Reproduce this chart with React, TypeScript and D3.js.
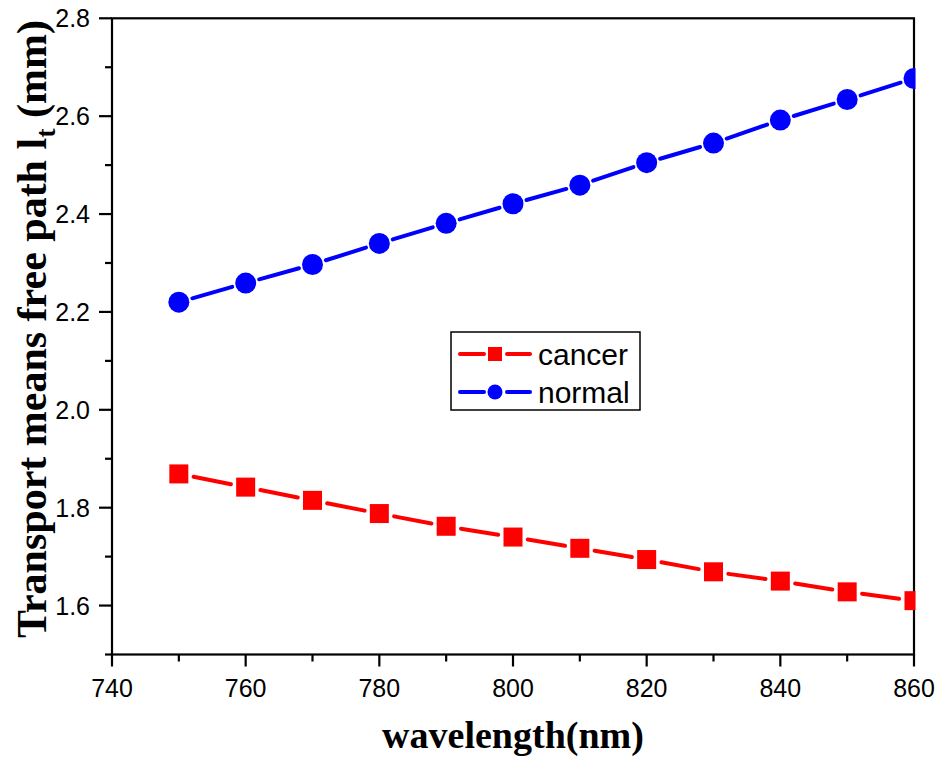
import React from "react";
import * as d3 from "d3";

const wavelengths = [750, 760, 770, 780, 790, 800, 810, 820, 830, 840, 850, 860];
const cancer = [1.869, 1.842, 1.815, 1.788, 1.762, 1.740, 1.717, 1.694, 1.669, 1.650, 1.628, 1.610];
const normal = [2.220, 2.259, 2.297, 2.340, 2.381, 2.421, 2.459, 2.505, 2.545, 2.592, 2.634, 2.677];
const xTicks = [740, 760, 780, 800, 820, 840, 860];
const xMinor = [750, 770, 790, 810, 830, 850];
const yTicks = [1.6, 1.8, 2.0, 2.2, 2.4, 2.6, 2.8];
const yMinor = [1.5, 1.7, 1.9, 2.1, 2.3, 2.5, 2.7];

const W = 937, H = 759;
const L = 112, R = 914, T = 18.3, B = 654.5;

const x = d3.scaleLinear().domain([740, 860]).range([L, R]);
const y = d3.scaleLinear().domain([1.5, 2.8]).range([B, T]);

function segments(vals: number[], shrink: number) {
  const segs: { x1: number; y1: number; x2: number; y2: number }[] = [];
  for (let i = 0; i < vals.length - 1; i++) {
    const ax = x(wavelengths[i]), ay = y(vals[i]);
    const bx = x(wavelengths[i + 1]), by = y(vals[i + 1]);
    const dx = bx - ax, dy = by - ay;
    const len = Math.hypot(dx, dy);
    const ux = dx / len, uy = dy / len;
    segs.push({ x1: ax + ux * shrink, y1: ay + uy * shrink, x2: bx - ux * shrink, y2: by - uy * shrink });
  }
  return segs;
}

export default function App() {
  const fmt = d3.format(".1f");
  const sq = 19;
  const rad = 10.5;
  return (
    <svg width={W} height={H} style={{ position: "absolute", left: 0, top: 0, background: "#fff" }}
      fontFamily="'Liberation Sans', Arial, sans-serif">
      <defs>
        <clipPath id="plotclip">
          <rect x={L} y={T - 12} width={R - L + 1.5} height={B - T + 24} />
        </clipPath>
      </defs>
      <rect x={0} y={0} width={W} height={H} fill="#fff" />

      {/* frame */}
      <rect x={L} y={T} width={R - L} height={B - T} fill="none" stroke="#000" strokeWidth={2.2} />

      {/* x ticks */}
      {xTicks.map((t) => (
        <g key={"xt" + t}>
          <line x1={x(t)} x2={x(t)} y1={B} y2={B + 12} stroke="#000" strokeWidth={2.2} />
          <text x={x(t)} y={697} textAnchor="middle" fontSize={25}>{t}</text>
        </g>
      ))}
      {xMinor.map((t) => (
        <line key={"xm" + t} x1={x(t)} x2={x(t)} y1={B} y2={B + 7} stroke="#000" strokeWidth={2.2} />
      ))}
      {/* y ticks */}
      {yTicks.map((t) => (
        <g key={"yt" + t}>
          <line x1={L - 13} x2={L} y1={y(t)} y2={y(t)} stroke="#000" strokeWidth={2.2} />
          <text x={90} y={y(t)} dy="0.36em" textAnchor="end" fontSize={25}>{fmt(t)}</text>
        </g>
      ))}
      {yMinor.map((t) => (
        <line key={"ym" + t} x1={L - 7} x2={L} y1={y(t)} y2={y(t)} stroke="#000" strokeWidth={2.2} />
      ))}

      {/* data */}
      <g clipPath="url(#plotclip)">
        {segments(cancer, 15).map((s, i) => (
          <line key={"cs" + i} {...s} stroke="#ff0000" strokeWidth={4} strokeLinecap="round" />
        ))}
        {segments(normal, 14).map((s, i) => (
          <line key={"ns" + i} {...s} stroke="#0000ff" strokeWidth={4} strokeLinecap="round" />
        ))}
        {cancer.map((v, i) => (
          <rect key={"c" + i} x={x(wavelengths[i]) - sq / 2} y={y(v) - sq / 2} width={sq} height={sq} fill="#ff0000" />
        ))}
        {normal.map((v, i) => (
          <circle key={"n" + i} cx={x(wavelengths[i])} cy={y(v)} r={rad} fill="#0000ff" />
        ))}
      </g>

      {/* legend */}
      <rect x={451} y={332} width={189} height={78} fill="#fff" stroke="#000" strokeWidth={1.5} />
      <line x1={460} x2={484} y1={354} y2={354} stroke="#ff0000" strokeWidth={4} strokeLinecap="round" />
      <line x1={507} x2={530} y1={354} y2={354} stroke="#ff0000" strokeWidth={4} strokeLinecap="round" />
      <rect x={495 - 7} y={354 - 7} width={14} height={14} fill="#ff0000" />
      <text x={538} y={354} dy="0.36em" fontSize={30}>cancer</text>
      <line x1={460} x2={484} y1={392} y2={392} stroke="#0000ff" strokeWidth={4} strokeLinecap="round" />
      <line x1={507} x2={530} y1={392} y2={392} stroke="#0000ff" strokeWidth={4} strokeLinecap="round" />
      <circle cx={495} cy={392} r={7.5} fill="#0000ff" />
      <text x={538} y={392} dy="0.36em" fontSize={30}>normal</text>

      {/* axis titles */}
      <text x={513} y={748} textAnchor="middle" fontFamily="'Liberation Serif', serif" fontWeight="bold" fontSize={38}>
        wavelength(nm)
      </text>
      <text transform="translate(46,329) rotate(-90)" textAnchor="middle" fontFamily="'Liberation Serif', serif" fontWeight="bold" fontSize={42}>
        Transport means free path l<tspan fontSize={28} dy={9}>t</tspan><tspan dy={-9}> (mm)</tspan>
      </text>
    </svg>
  );
}
